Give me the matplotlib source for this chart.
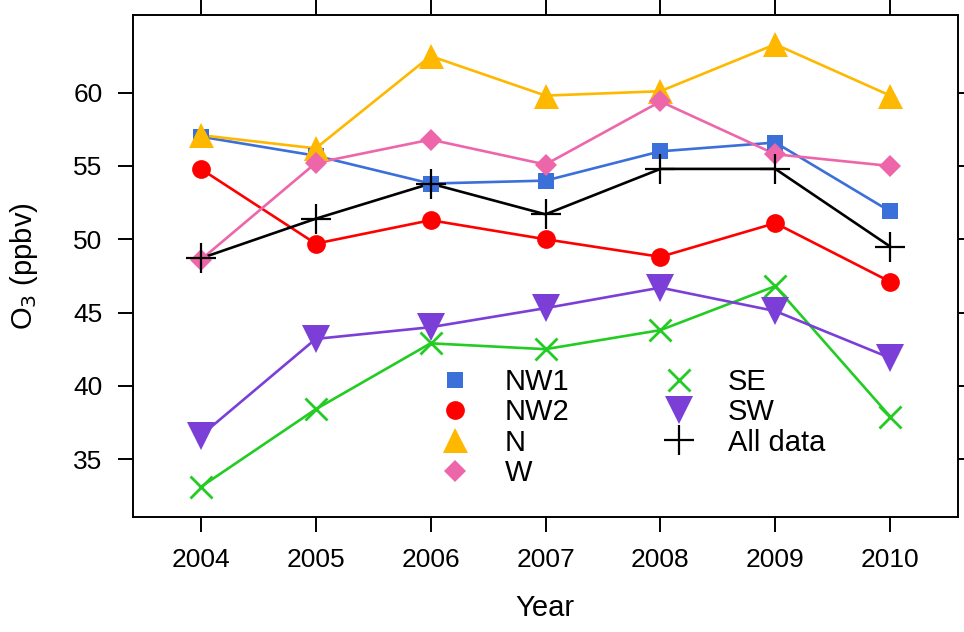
import matplotlib
matplotlib.use('Agg')
import matplotlib.pyplot as plt

plt.rcParams['font.family'] = ['Liberation Sans', 'DejaVu Sans']

years = [2004, 2005, 2006, 2007, 2008, 2009, 2010]

nw1 = [57.0, 55.7, 53.8, 54.0, 56.0, 56.6, 51.9]
nw2 = [54.8, 49.7, 51.3, 50.0, 48.8, 51.1, 47.1]
north = [57.1, 56.2, 62.5, 59.8, 60.1, 63.3, 59.8]
west = [48.6, 55.2, 56.8, 55.1, 59.4, 55.8, 55.0]
se = [33.1, 38.4, 42.9, 42.5, 43.8, 46.8, 37.9]
sw = [36.6, 43.2, 44.0, 45.3, 46.7, 45.1, 41.9]
all_data = [48.7, 51.4, 53.8, 51.7, 54.8, 54.8, 49.5]

yticks = [35, 40, 45, 50, 55, 60]

# (label, values, color, marker, markersize, marker edge width)
series = [
    ('NW1', nw1, '#3b6fd9', 's', 12, 0),
    ('NW2', nw2, '#ff0000', 'o', 13.5, 0),
    ('N', north, '#ffb800', '^', 18, 0),
    ('W', west, '#ee66aa', 'D', 11.5, 0),
    ('SE', se, '#22cc22', 'x', 16, 2),
    ('SW', sw, '#7b3fd8', 'v', 20, 0),
    ('All data', all_data, '#000000', '+', 21, 1.6),
]

fig = plt.figure(figsize=(9.64, 6.32), dpi=100)
ax = fig.add_axes([133/964, 1 - 517/632, 825/964, 502/632])

handles = []
for label, vals, col, mk, ms, mew in series:
    ax.plot(years, vals, color=col, lw=1.9, zorder=2)
    ax.plot(years, vals, ls='none', marker=mk, ms=ms, color=col,
            mec=col, mew=mew, zorder=3)
    h, = ax.plot([], [], ls='none', marker=mk, ms=ms, color=col,
                 mec=col, mew=mew)
    handles.append(h)

ax.set_xlim(2003.41, 2010.59)
ax.set_ylim(31.05, 65.3)
ax.set_xticks(years)
ax.set_yticks(yticks)
ax.tick_params(direction='out', length=11, width=1.4, labelsize=19,
               top=True, right=True, pad=11)
for s in ax.spines.values():
    s.set_linewidth(1.4)

# legend: markers only, two columns
leg = fig.legend(handles, [s[0] for s in series], ncol=2, frameon=False,
                 loc='upper left', bbox_to_anchor=(433/964, 1 - 368/632),
                 fontsize=21, handlelength=1.5, handletextpad=0.95,
                 columnspacing=3.0, labelspacing=0.08, borderpad=0,
                 borderaxespad=0, numpoints=1)

fig.text(545/964, 1 - 608/632, 'Year', ha='center', va='center', fontsize=21)
fig.text(24/964, 1 - 266/632, 'O$_3$ (ppbv)', ha='center', va='center',
         rotation=90, fontsize=21)

fig.savefig('out.png', dpi=100)
